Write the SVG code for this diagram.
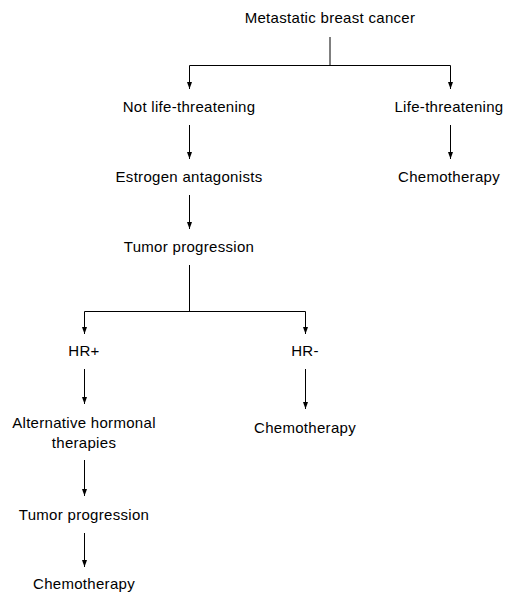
<svg xmlns="http://www.w3.org/2000/svg" width="516" height="605" viewBox="0 0 516 605">
<style>
text{font-family:"Liberation Sans",Arial,sans-serif;font-size:15px;letter-spacing:0.3px;fill:#000;text-anchor:middle}
.c line,.c polyline{stroke:#000;stroke-width:1;fill:none}
.h{fill:#000}
</style>
<rect width="516" height="605" fill="#fff"/>
<g class="c">
<line x1="330" y1="37" x2="330" y2="65.5"/>
<polyline points="189.5,89 189.5,65.5 450.5,65.5 450.5,89"/>
<line x1="189.5" y1="125" x2="189.5" y2="159"/>
<line x1="189.5" y1="195" x2="189.5" y2="229"/>
<line x1="450.5" y1="125" x2="450.5" y2="159"/>
<line x1="189.5" y1="265" x2="189.5" y2="311.5"/>
<polyline points="84.5,334 84.5,311.5 305.5,311.5 305.5,334"/>
<line x1="84.5" y1="369" x2="84.5" y2="404"/>
<line x1="305.5" y1="369" x2="305.5" y2="409"/>
<line x1="84.5" y1="460" x2="84.5" y2="496"/>
<line x1="84.5" y1="533" x2="84.5" y2="567"/>
<g class="h">
<path d="M187,82 L192,82 L189.5,89 Z"/>
<path d="M448,82 L453,82 L450.5,89 Z"/>
<path d="M187,152 L192,152 L189.5,159 Z"/>
<path d="M187,222 L192,222 L189.5,229 Z"/>
<path d="M448,152 L453,152 L450.5,159 Z"/>
<path d="M82,327 L87,327 L84.5,334 Z"/>
<path d="M303,327 L308,327 L305.5,334 Z"/>
<path d="M82,397 L87,397 L84.5,404 Z"/>
<path d="M303,402 L308,402 L305.5,409 Z"/>
<path d="M82,489 L87,489 L84.5,496 Z"/>
<path d="M82,560 L87,560 L84.5,567 Z"/>
</g>
</g>
<g id="n1"><text x="330" y="23">Metastatic breast cancer</text></g>
<g id="n2"><text x="189" y="112">Not life-threatening</text></g>
<g id="n3"><text x="449" y="112">Life-threatening</text></g>
<g id="n4"><text x="189" y="182">Estrogen antagonists</text></g>
<g id="n5"><text x="449" y="182">Chemotherapy</text></g>
<g id="n6"><text x="189" y="252">Tumor progression</text></g>
<g id="n7"><text x="84" y="356">HR+</text></g>
<g id="n8"><text x="305" y="356">HR-</text></g>
<g id="n9"><text x="84" y="428">Alternative hormonal</text><text x="84" y="448">therapies</text></g>
<g id="n10"><text x="305" y="433">Chemotherapy</text></g>
<g id="n11"><text x="84" y="520">Tumor progression</text></g>
<g id="n12"><text x="84" y="589">Chemotherapy</text></g>
</svg>
